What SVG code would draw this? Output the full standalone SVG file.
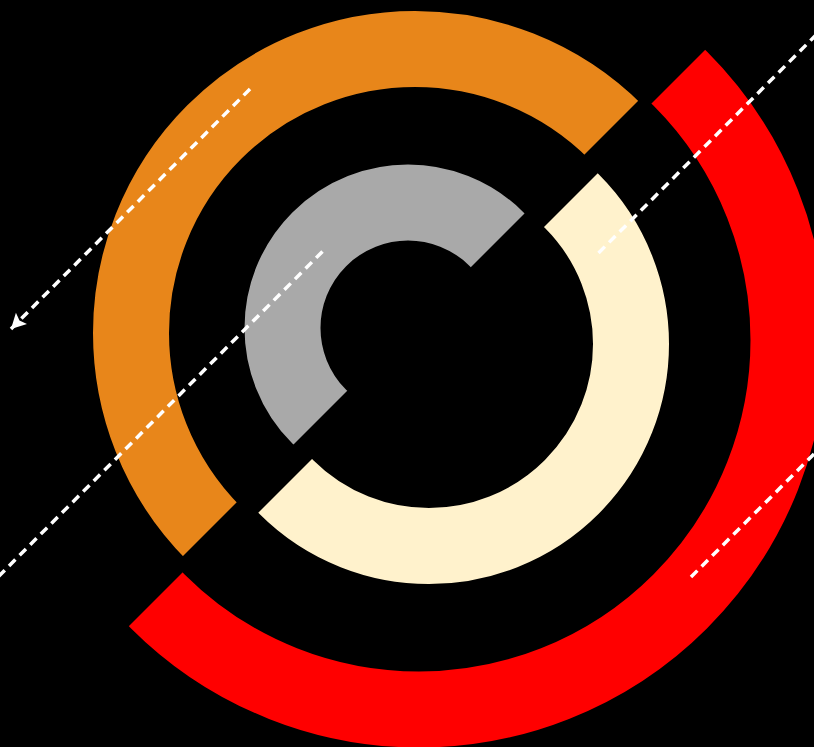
<svg xmlns="http://www.w3.org/2000/svg" width="814" height="747" viewBox="0 0 814 747">
  <style>
    .ring { fill: none; stroke-width: 76; }
    .dash { fill: none; stroke: #FFFFFF; stroke-width: 3.5; stroke-dasharray: 9 6; }
  </style>
  <defs>
    <marker id="arrow" markerUnits="userSpaceOnUse" markerWidth="18" markerHeight="18" refX="15" refY="8" orient="auto">
      <path d="M0,0 L15,8 L0,16 L3,8 z" fill="#FFFFFF"/>
    </marker>
    <clipPath id="clipOrange"><polygon points="-200,-200 939,-200 -200,939"/></clipPath>
    <clipPath id="clipGray"><polygon points="-200,-200 938,-200 -200,938"/></clipPath>
    <clipPath id="clipRed"><polygon points="955,-200 1200,-200 1200,1200 -200,1200 -200,955"/></clipPath>
    <clipPath id="clipCream"><polygon points="971,-200 1200,-200 1200,1200 -200,1200 -200,971"/></clipPath>
  </defs>
  <rect x="0" y="0" width="814" height="747" fill="#000000"/>
  <g id="ring-orange">
    <circle class="ring" cx="415" cy="333" r="284" stroke="#E8861A" clip-path="url(#clipOrange)"/>
  </g>
  <g id="ring-red">
    <circle class="ring" cx="419" cy="340" r="369.5" stroke="#FF0000" stroke-width="77" clip-path="url(#clipRed)"/>
  </g>
  <g id="ring-cream">
    <circle class="ring" cx="429" cy="344" r="202" stroke="#FFF2CC" clip-path="url(#clipCream)"/>
  </g>
  <g id="ring-gray">
    <circle class="ring" cx="408" cy="328" r="125.5" stroke="#A9A9A9" clip-path="url(#clipGray)"/>
  </g>
  <g id="connectors">
    <line class="dash" x1="250" y1="89" x2="11" y2="329" marker-end="url(#arrow)"/>
    <line class="dash" x1="322.5" y1="251.5" x2="-10" y2="585"/>
    <line class="dash" x1="598.5" y1="253" x2="824" y2="27"/>
    <line class="dash" x1="691" y1="577" x2="824" y2="444"/>
  </g>
</svg>
